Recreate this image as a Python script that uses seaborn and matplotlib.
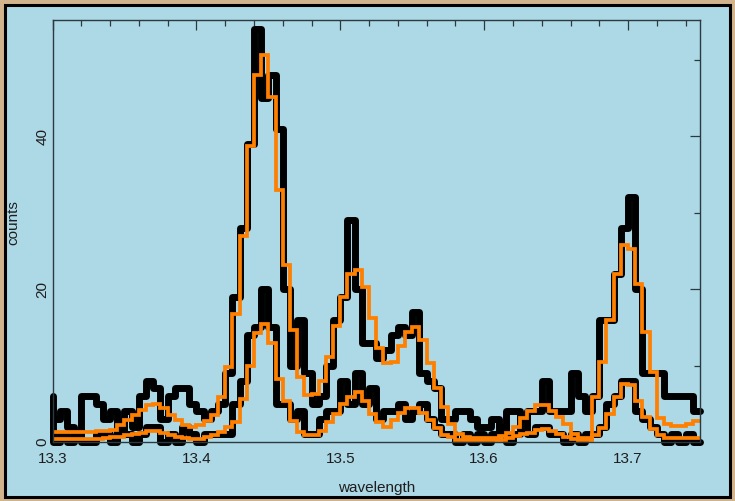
import numpy as np
import pandas as pd
import matplotlib
matplotlib.use("Agg")
import matplotlib.pyplot as plt
from matplotlib.patches import Rectangle
from matplotlib.ticker import MultipleLocator
import seaborn as sns

# Wavelength grid of the spectra (Angstrom)
first_edge = 13.30
bin_width = 0.005

# Observed counts per bin, brighter spectrum
counts_hi = [3, 4, 2, 1, 6, 6, 5, 3, 4, 1, 4, 2, 6, 8, 7, 3, 6, 7, 7, 5,
             4, 3, 4, 5, 9, 19, 28, 39, 54, 45, 48, 41, 20, 10, 16, 9, 5, 6, 10, 16,
             19, 29, 20, 13, 13, 11, 12, 14, 15, 14, 17, 9, 8, 7, 3, 3, 4, 4, 3, 2,
             2, 3, 2, 4, 4, 3, 4, 4, 8, 4, 4, 4, 9, 6, 4, 6, 16, 16, 22, 28,
             32, 20, 9, 9, 9, 6, 6, 6, 6, 4]
# Observed counts per bin, fainter spectrum
counts_lo = [0, 1, 0, 1, 0, 0, 1, 1, 0, 2, 1, 0, 1, 2, 2, 0, 1, 0, 2, 1,
             0, 1, 1, 1, 1, 5, 8, 14, 15, 20, 15, 5, 5, 3, 4, 1, 1, 3, 4, 4,
             8, 5, 9, 5, 7, 3, 4, 4, 5, 3, 4, 5, 3, 2, 1, 1, 0, 1, 0, 1,
             0, 1, 2, 0, 1, 3, 1, 2, 2, 1, 1, 0, 1, 0, 1, 1, 2, 5, 6, 8,
             8, 4, 3, 2, 1, 0, 1, 0, 1, 0]
# Model predictions for the two spectra
model_hi = [1.3, 1.3, 1.3, 1.3, 1.3, 1.3, 1.4, 1.5, 1.6, 2.2, 2.9, 3.5, 4.2, 4.8, 5.0, 4.4, 3.5, 2.9, 2.2, 2.0,
            2.2, 2.7, 3.5, 5.9, 9.8, 16.8, 27.0, 38.7, 48.0, 50.6, 45.1, 33.0, 23.1, 14.6, 8.5, 6.2, 6.3, 8.0, 11.1, 15.2,
            19.0, 22.0, 22.5, 20.3, 16.2, 12.3, 10.3, 10.5, 12.5, 14.4, 15.0, 13.3, 10.3, 7.0, 4.6, 2.4, 1.1, 0.6, 0.5, 0.5,
            0.5, 0.5, 0.8, 1.2, 2.0, 3.1, 4.0, 4.8, 4.8, 4.0, 3.3, 2.4, 1.1, 0.5, 0.5, 5.9, 10.4, 16.0, 22.0, 25.8,
            25.3, 20.7, 14.4, 9.2, 3.2, 2.3, 2.1, 2.1, 2.3, 2.7]
model_lo = [0.4, 0.4, 0.4, 0.4, 0.4, 0.4, 0.4, 0.5, 0.6, 0.7, 0.9, 1.0, 1.2, 1.4, 1.4, 1.2, 0.9, 0.6, 0.5, 0.4,
            0.4, 0.6, 0.9, 1.3, 2.0, 2.6, 5.6, 10.0, 14.3, 15.5, 12.9, 8.3, 5.3, 2.7, 1.3, 0.9, 0.9, 1.5, 2.6, 3.7,
            5.0, 5.9, 6.5, 5.4, 3.7, 2.6, 2.0, 2.9, 3.8, 4.4, 4.4, 3.8, 2.9, 1.8, 0.9, 0.6, 0.3, 0.3, 0.3, 0.3,
            0.3, 0.3, 0.3, 0.5, 0.8, 1.0, 1.2, 1.6, 1.7, 1.4, 1.0, 0.6, 0.4, 0.3, 0.3, 0.9, 1.8, 3.7, 5.9, 7.6,
            7.4, 5.4, 3.3, 1.7, 0.9, 0.5, 0.5, 0.5, 0.5, 0.5]
# Level each spectrum has just below the first bin
entry_hi = 6
entry_lo = 3

x_ticks = [13.3, 13.4, 13.5, 13.6, 13.7]
y_ticks = [0, 20, 40]

BLUE = "#add8e6"
TAN = "#d2b48c"
AXIS = "#2b3a40"
ORANGE = "#ff8000"
INK = "#1e1e1e"


def step_frame(values, entry=None):
    """Left bin edges plus closing edge, for a steps-post line."""
    n = len(values)
    edges = first_edge + bin_width * np.arange(n + 1)
    x = list(edges)
    y = list(values) + [values[-1]]
    if entry is not None:
        x = [edges[0]] + x
        y = [entry] + y
    return pd.DataFrame({"wavelength": x, "counts": y})


sns.set_theme(style="white")
plt.rcParams["font.family"] = ["Liberation Sans", "DejaVu Sans"]

fig = plt.figure(figsize=(7.35, 5.01), dpi=100)
fig.patch.set_facecolor(TAN)
W, H = 735, 501
fig.add_artist(Rectangle((4.5 / W, 4.5 / H), (W - 9.5) / W, (H - 9.0) / H,
                         transform=fig.transFigure, facecolor=BLUE,
                         edgecolor="black", linewidth=2.2, zorder=0))

ax = fig.add_axes([52.5 / W, 1 - 442 / H, (700 - 52.5) / W, (442 - 20) / H])
ax.set_facecolor(BLUE)

black_kw = dict(color="black", linewidth=5.0, estimator=None, sort=False,
                drawstyle="steps-post", solid_joinstyle="round",
                solid_capstyle="round", clip_on=False, legend=False)
orange_kw = dict(color=ORANGE, linewidth=2.7, estimator=None, sort=False,
                 drawstyle="steps-post", solid_joinstyle="miter",
                 solid_capstyle="butt", clip_on=False, legend=False)

sns.lineplot(data=step_frame(counts_hi, entry_hi), x="wavelength", y="counts", ax=ax, **black_kw)
sns.lineplot(data=step_frame(counts_lo, entry_lo), x="wavelength", y="counts", ax=ax, **black_kw)
sns.lineplot(data=step_frame(model_hi), x="wavelength", y="counts", ax=ax, **orange_kw)
sns.lineplot(data=step_frame(model_lo), x="wavelength", y="counts", ax=ax, **orange_kw)

ax.set_xlim(13.3, 13.75)
ax.set_ylim(0, 55.2)

for side in ax.spines.values():
    side.set_color(AXIS)
    side.set_linewidth(1.0)
    side.set_zorder(5)

ax.set_xticks(x_ticks)
ax.set_xticklabels([f"{t:.1f}" for t in x_ticks])
ax.set_yticks(y_ticks)
ax.set_yticklabels([str(t) for t in y_ticks], rotation=90, va="center")
ax.xaxis.set_minor_locator(MultipleLocator(0.02))
ax.yaxis.set_minor_locator(MultipleLocator(10))
ax.tick_params(which="both", direction="in", top=True, right=True,
               color=AXIS, width=0.9, labelsize=11, labelcolor=INK)
ax.tick_params(which="major", length=7)
ax.tick_params(which="minor", length=4)
ax.tick_params(axis="x", pad=7)
ax.tick_params(axis="y", pad=2)

ax.set_xlabel("wavelength", fontsize=11, color=INK)
ax.set_ylabel("counts", fontsize=11, color=INK)
ax.xaxis.set_label_coords(0.5, (442 - 481) / 422)
ax.yaxis.set_label_coords((20 - 52.5) / 647.5, 0.52)

fig.savefig("out.png", dpi=100, facecolor=fig.get_facecolor())
